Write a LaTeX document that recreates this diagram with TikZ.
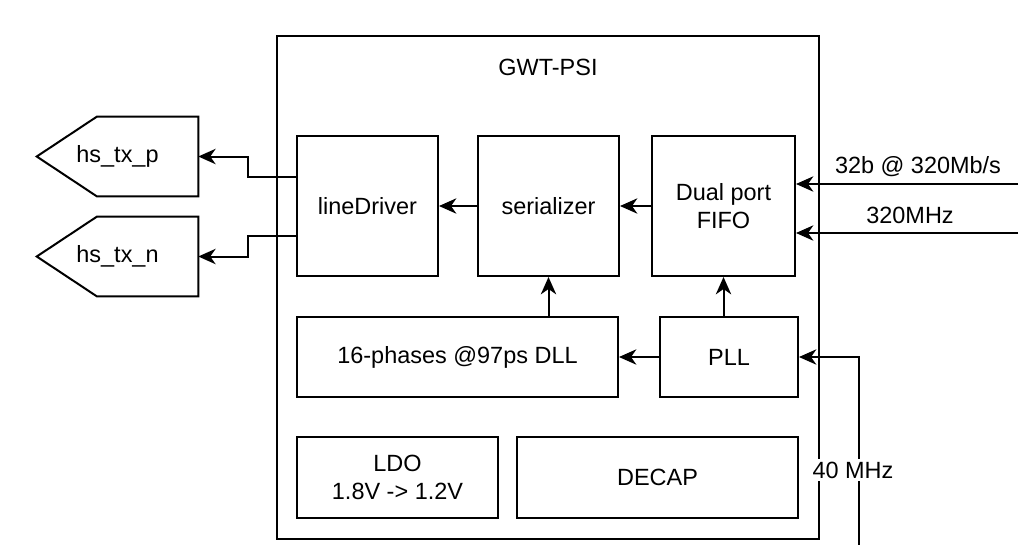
\documentclass[tikz,border=0pt]{standalone}
\usepackage{fontspec}
\setmainfont{Liberation Sans}
\usetikzlibrary{arrows.meta,calc}
\begin{document}
\begin{tikzpicture}[x=0.75pt,y=-0.75pt,
  every node/.style={font=\fontsize{17.6pt}{21pt}\selectfont, inner sep=0pt},
  box/.style={draw, line width=1.5pt, rectangle, align=center},
  port/.style={rectangle, align=center},
  lbl/.style={fill=white, inner sep=2pt},
  arr/.style={line width=1.5pt, -{Stealth[length=13pt,width=11.5pt,inset=4pt]}},
  wire/.style={line width=1.5pt}]
\useasboundingbox (0,0) rectangle (1024,544);
% outer block
\node[box, minimum width=406.5pt, minimum height=377.25pt] (chip) at (548,287.5) {};
\node (title) at (548,67) {GWT-PSI};
% inner blocks
\node[box, minimum width=105.75pt, minimum height=105pt] (ld) at (367.5,206) {lineDriver};
\node[box, minimum width=105.75pt, minimum height=105pt] (ser) at (548.5,206) {serializer};
\node[box, minimum width=107.25pt, minimum height=105pt] (fifo) at (723.5,206) {Dual port\\FIFO};
\node[box, minimum width=240.75pt, minimum height=60pt] (dll) at (457.5,357) {16-phases @97ps DLL};
\node[box, minimum width=103.5pt, minimum height=60pt] (pll) at (729,357) {PLL};
\node[box, minimum width=150.75pt, minimum height=60.75pt] (ldo) at (397.5,477.5) {LDO\\1.8V -> 1.2V};
\node[box, minimum width=210.75pt, minimum height=60.75pt] (decap) at (657.5,477.5) {DECAP};
% output ports
\node[port, minimum width=120.75pt, minimum height=59.25pt] (hsp) at (117.5,156.5) {hs\_tx\_p};
\node[port, minimum width=120.75pt, minimum height=59.25pt] (hsn) at (117.5,256.5) {hs\_tx\_n};
\draw[wire, line join=miter] (hsp.north east) -- (hsp.south east) -- ($(hsp.south west)+(60,0)$) -- (hsp.west) -- ($(hsp.north west)+(60,0)$) -- cycle;
\draw[wire, line join=miter] (hsn.north east) -- (hsn.south east) -- ($(hsn.south west)+(60,0)$) -- (hsn.west) -- ($(hsn.north west)+(60,0)$) -- cycle;
% connectors
\coordinate (yp) at (0,177);
\coordinate (yn) at (0,236);
\draw[arr] (ld.west |- yp) -- (248,177) |- (hsp.east);
\draw[arr] (ld.west |- yn) -- (248,236) |- (hsn.east);
\draw[arr] (ser.west) -- (ld.east);
\draw[arr] (fifo.west) -- (ser.east);
\draw[arr] (ser.south |- dll.north) -- (ser.south);
\draw[arr] (fifo.south |- pll.north) -- (fifo.south);
\draw[arr] (pll.west) -- (dll.east);
% inputs
\coordinate (din) at (1018,184);
\coordinate (cin) at (1018,233);
\coordinate (refin) at (859,560);
\draw[arr] (din) -- (fifo.east |- din);
\draw[arr] (cin) -- (fifo.east |- cin);
\draw[arr] (refin) |- (pll.east);
\node (ldin) at (918,167) {32b @ 320Mb/s};
\node (lcin) at (910,215) {320MHz};
\node[lbl] (lref) at (853,470) {40 MHz};
\end{tikzpicture}
\end{document}
